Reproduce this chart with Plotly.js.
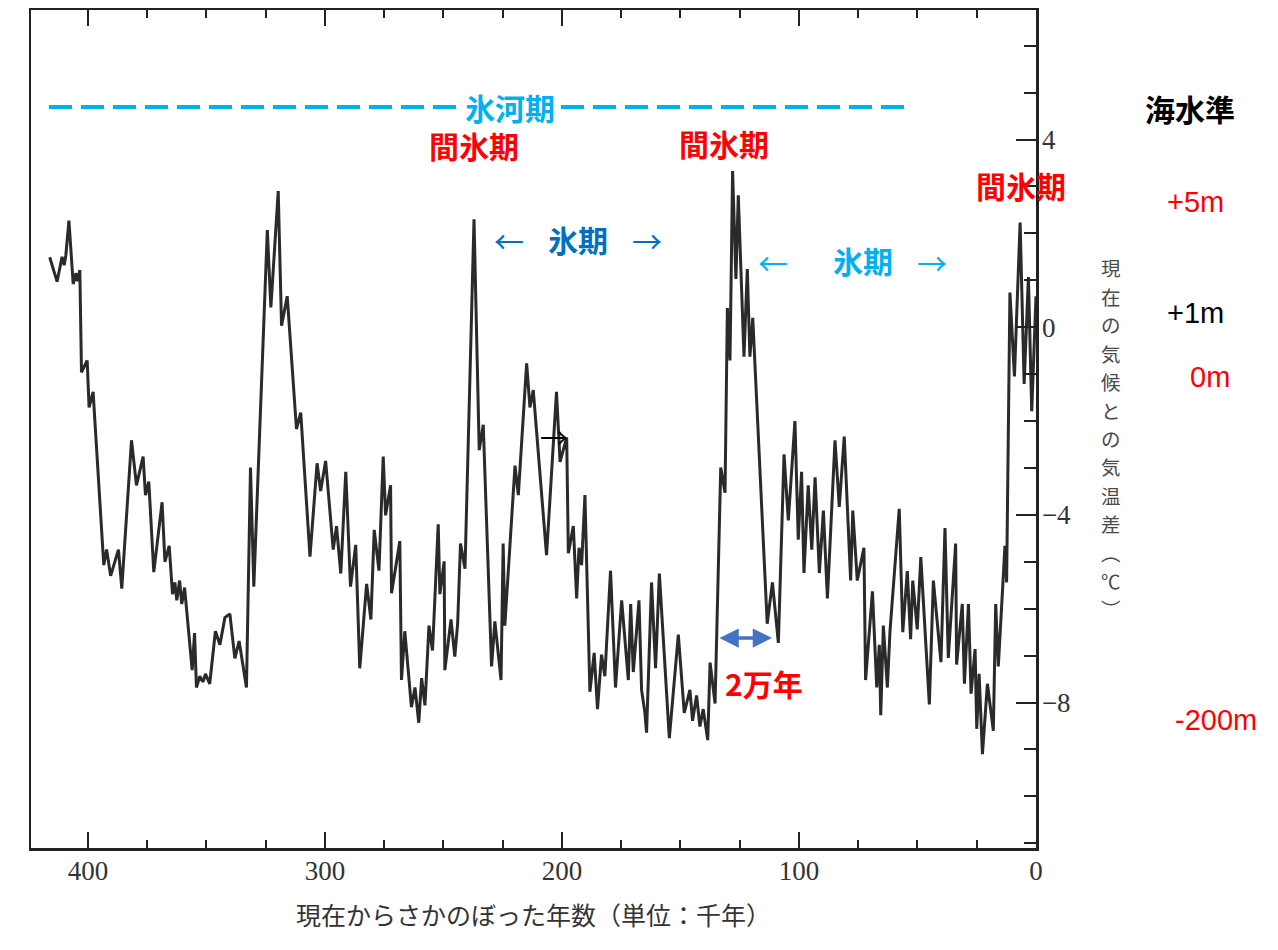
<!DOCTYPE html>
<html>
<head>
<meta charset="utf-8">
<script src="https://cdn.plot.ly/plotly-3.0.1.min.js"></script>
<style>html,body{margin:0;padding:0;background:#fff;}#chart{width:1278px;height:950px;}</style>
</head>
<body>
<div id="chart"></div>
<script>
// ---- data (thousand years before present, temperature difference from present in °C) ----
const yearsKa = [416.1,413.0,410.9,410.0,409.3,408.0,406.2,405.0,404.4,403.4,402.7,400.3,399.5,397.8,
393.3,392.1,390.4,387.1,385.7,381.6,379.5,376.7,375.7,374.3,372.2,368.7,367.5,365.7,364.3,363.3,362.5,361.3,360.4,359.2,
356.0,355.0,354.2,352.8,351.4,350.4,348.6,346.2,344.3,342.2,340.1,338.0,336.2,333.1,331.4,330.0,324.3,322.8,319.7,318.3,
315.9,312.0,310.2,306.3,303.3,301.8,299.7,296.5,295.1,293.3,291.2,289.2,287.0,285.3,282.4,280.6,279.2,277.2,275.4,274.4,
272.3,271.9,268.4,267.7,266.3,263.5,262.0,260.4,259.2,257.8,256.1,254.6,252.2,251.5,249.7,249.4,246.8,245.2,244.0,242.8,
240.9,237.1,234.9,233.2,229.7,228.3,225.7,224.8,224.1,219.8,218.4,214.9,213.5,212.1,206.5,202.3,200.8,198.0,197.3,195.2,
193.8,192.8,191.7,190.3,188.2,186.4,185.0,183.3,181.9,179.5,177.4,174.8,172.0,171.0,169.9,167.5,166.4,165.0,164.3,162.2,
160.5,158.9,154.7,150.9,148.4,146.0,144.9,143.2,141.8,140.4,138.5,137.5,135.4,133.0,131.2,130.2,129.1,128.0,126.6,125.6,
123.2,121.8,120.7,119.5,113.4,111.2,108.7,106.3,104.5,101.7,100.3,98.9,97.9,96.1,94.6,93.2,91.4,89.7,88.0,84.8,83.0,
80.9,78.2,77.3,75.4,72.6,71.9,69.0,67.2,66.1,65.5,64.4,62.7,61.6,57.7,56.2,54.3,52.9,52.0,50.1,48.6,45.0,43.3,40.1,38.4,
37.0,33.9,33.5,31.1,30.2,28.5,27.4,25.7,25.0,24.0,22.6,20.5,18.0,17.0,15.9,13.1,12.4,11.0,9.1,6.7,5.0,3.2,1.8,0.0];
const tempDiff = [1.49,0.97,1.50,1.32,1.53,2.27,0.92,1.15,0.98,1.22,-0.96,-0.71,-1.71,-1.38,
-5.07,-4.74,-5.30,-4.74,-5.57,-2.41,-3.37,-2.76,-3.58,-3.29,-5.22,-3.73,-5.00,-4.66,-5.69,-5.44,-5.82,-5.40,-5.90,-5.55,
-7.31,-6.52,-7.68,-7.44,-7.56,-7.39,-7.60,-6.48,-6.77,-6.19,-6.11,-7.06,-6.69,-7.68,-2.99,-5.53,2.07,0.42,2.90,0.03,
0.66,-2.17,-1.82,-4.89,-2.90,-3.49,-2.85,-4.74,-4.24,-5.25,-3.08,-5.53,-4.64,-7.27,-5.47,-6.23,-4.32,-5.19,-2.76,-4.01,
-3.37,-5.67,-4.56,-7.52,-6.48,-8.10,-7.68,-8.43,-7.48,-8.06,-6.36,-6.89,-4.20,-5.69,-4.99,-7.31,-6.23,-7.02,-6.32,-4.61,
-5.15,2.30,-2.62,-2.08,-7.23,-6.27,-7.52,-4.61,-6.36,-2.95,-3.58,-0.77,-1.71,-1.34,-4.86,-1.38,-2.87,-2.35,-4.82,-4.24,
-5.78,-4.70,-5.07,-3.58,-7.77,-6.94,-8.14,-6.98,-7.44,-5.19,-7.68,-5.82,-7.52,-5.90,-7.35,-5.82,-7.73,-8.22,-8.64,-5.44,
-7.27,-5.25,-8.76,-6.55,-8.22,-7.73,-8.39,-7.85,-8.51,-8.14,-8.80,-7.15,-8.02,-2.99,-3.53,0.41,-0.71,3.33,1.03,2.81,
-0.63,1.24,-0.63,0.20,-6.32,-5.44,-6.73,-2.71,-4.12,-2.00,-4.53,-3.08,-5.24,-3.37,-4.74,-3.20,-5.24,-3.91,-5.78,-2.41,-3.83,
-2.33,-5.40,-3.91,-5.40,-4.70,-7.52,-5.63,-7.68,-6.77,-8.27,-6.36,-7.68,-6.48,-3.87,-6.50,-5.20,-6.65,-5.40,-6.44,-4.90,-8.04,-5.40,-7.14,-4.28,
-7.05,-4.61,-7.19,-5.90,-7.60,-5.90,-7.81,-6.86,-8.56,-7.39,-9.10,-7.60,-8.60,-5.90,-7.23,-4.66,-5.44,0.74,-1.05,2.23,-1.21,1.07,-1.79,0.66];

const xTickVals = [0, 100, 200, 300, 400];
const xTickText = ['0', '100', '200', '300', '400'];
const yTickVals = [-8, -4, 0, 4];
const yTickText = ['\u22128', '\u22124', '0', '4'];

const xTitle = '現在からさかのぼった年数（単位：千年）';
const yTitleChars = ['現','在','の','気','候','と','の','気','温','差','︵','℃','︶'];
const seaLevelTitle = '海水準';
const seaLevels = ['+5m', '+1m', '0m', '-200m'];
const interglacial = '間氷期';
const glacialEra = '氷河期';
const glacial = '氷期';
const span = '2万年';

// ---- layout helpers (pixel position -> paper coords) ----
const L = 31, R = 1036, T = 10, B = 848;
const px = x => (x - L) / (R - L);
const py = y => (B - y) / (B - T);

const CJK = '"Noto Sans CJK JP", "Noto Sans CJK SC", sans-serif';
const RED = '#ff0000', CYAN = '#00b0f0', BLUE = '#0070c0';

function txt(x, y, text, font, extra) {
  return Object.assign({
    x: px(x), y: py(y), xref: 'paper', yref: 'paper', text: text,
    showarrow: false, xanchor: 'center', yanchor: 'middle', font: font
  }, extra || {});
}
const boldCJK = (size, color) => ({family: CJK, size: size, color: color, weight: 'bold'});
const sans = (size, color) => ({family: '"Liberation Sans", Arial, sans-serif', size: size, color: color});

const annotations = [
  txt(510, 107, glacialEra, boldCJK(30, CYAN), {bgcolor: '#ffffff', borderpad: 0}),
  txt(474, 145, interglacial, boldCJK(30, RED)),
  txt(724, 143, interglacial, boldCJK(30, RED)),
  txt(1021, 185, interglacial, boldCJK(30, RED)),
  txt(509, 240, '←', {family: CJK, size: 30, color: BLUE}),
  txt(578, 239, glacial, boldCJK(30, BLUE)),
  txt(647, 240, '→', {family: CJK, size: 30, color: BLUE}),
  txt(773, 262, '←', {family: CJK, size: 30, color: CYAN}),
  txt(863, 260, glacial, boldCJK(30, CYAN)),
  txt(932, 262, '→', {family: CJK, size: 30, color: CYAN}),
  txt(554, 437, '→', {family: CJK, size: 28, color: '#000000'}),
  txt(764, 683, span, boldCJK(30, RED)),
  txt(1190, 108, seaLevelTitle, boldCJK(30, '#000000')),
  txt(1195, 202, seaLevels[0], sans(29, RED)),
  txt(1195, 313, seaLevels[1], sans(29, '#000000')),
  txt(1210, 377, seaLevels[2], sans(29, RED)),
  txt(1216, 720, seaLevels[3], sans(29, RED)),
  // double-headed 20k-year arrow
  {x: px(772), y: py(638), ax: px(718), ay: py(638), xref: 'paper', yref: 'paper', axref: 'paper', ayref: 'paper',
   text: '', showarrow: true, arrowside: 'end+start', arrowhead: 2, arrowsize: 1.1, arrowwidth: 3.5, arrowcolor: '#4472c4'}
];
// vertical (tategaki) y-axis title: one upright character per step
yTitleChars.forEach((c, i) => {
  annotations.push(txt(1111, 268 + i * 28.4, c, {family: CJK, size: 19.5, color: '#4a4a4a'}));
});

const shapes = [
  {type: 'line', xref: 'paper', yref: 'paper', x0: px(49), x1: px(906), y0: py(107), y1: py(107),
   line: {color: CYAN, width: 4, dash: '23px,9px'}}
];

const trace = {
  x: yearsKa, y: tempDiff, type: 'scatter', mode: 'lines',
  line: {color: '#2a2a2a', width: 3}, hoverinfo: 'skip'
};

const layout = {
  width: 1278, height: 950,
  margin: {l: L, r: 1278 - R, t: T, b: 950 - B, pad: 0},
  paper_bgcolor: '#ffffff', plot_bgcolor: '#ffffff',
  showlegend: false,
  font: {family: CJK, color: '#333'},
  xaxis: {
    range: [424, 0], tickvals: xTickVals, ticktext: xTickText,
    ticks: 'inside', ticklen: 16, tickwidth: 2, tickcolor: '#222',
    minor: {dtick: 25, tick0: 0, ticks: 'inside', ticklen: 8, tickwidth: 2, tickcolor: '#222'},
    showline: true, linewidth: 2.5, linecolor: '#222', mirror: 'ticks',
    showgrid: false, zeroline: false,
    tickfont: {family: '"Liberation Serif", "DejaVu Serif", serif', size: 27, color: '#333'},
    ticklabelstandoff: -3,
    title: {text: xTitle, font: {family: CJK, size: 25, color: '#333'}, standoff: 23}
  },
  yaxis: {
    side: 'right', range: [-11.1, 6.76], tickvals: yTickVals, ticktext: yTickText,
    ticks: 'inside', ticklen: 20, tickwidth: 2, tickcolor: '#222',
    minor: {dtick: 1, tick0: 0, ticks: 'inside', ticklen: 12, tickwidth: 2, tickcolor: '#222'},
    showline: true, linewidth: 2.5, linecolor: '#222', mirror: true,
    showgrid: false, zeroline: false,
    tickfont: {family: '"Liberation Serif", "DejaVu Serif", serif', size: 27, color: '#333'},
    ticklabelstandoff: -2
  },
  annotations: annotations,
  shapes: shapes
};

Plotly.newPlot('chart', [trace], layout, {staticPlot: true, displayModeBar: false});
</script>
</body>
</html>
